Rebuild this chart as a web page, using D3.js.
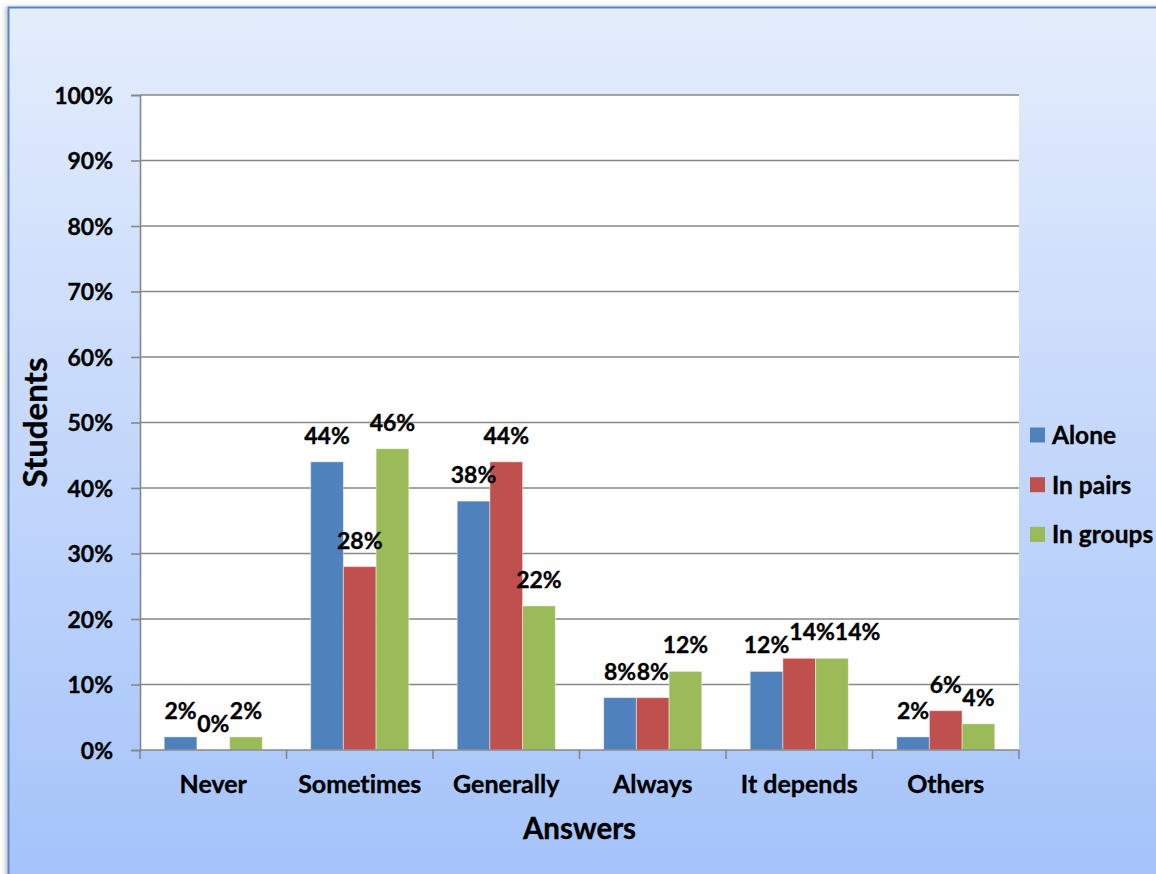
<!DOCTYPE html>
<html>
<head>
<meta charset="utf-8">
<script src="https://cdn.jsdelivr.net/npm/d3@7"></script>
<style>
  html, body { margin: 0; padding: 0; background: #ffffff; }
  svg { display: block; }
  text {
    font-family: Lato, "Open Sans", sans-serif; font-weight: bold; fill: #000;
    font-variant-ligatures: none; font-feature-settings: "liga" 0;
    stroke: #000; stroke-width: 0.35px;
  }
</style>
</head>
<body>
<svg id="chart" width="1156" height="874"></svg>
<script>
// Answers on the horizontal axis
const categories = ["Never", "Sometimes", "Generally", "Always", "It depends", "Others"];
// Series, in legend order
const seriesNames = ["Alone", "In pairs", "In groups"];
const alone   = [2, 44, 38, 8, 12, 2];
const inPairs = [0, 28, 44, 8, 14, 6];
const inGroups = [2, 46, 22, 12, 14, 4];
const seriesValues = [alone, inPairs, inGroups];
const seriesColors = ["#4f81bd", "#c0504d", "#9bbb59"];
// Percent ticks on the vertical axis
const yTicks = [0, 10, 20, 30, 40, 50, 60, 70, 80, 90, 100];

const svg = d3.select("#chart");
const W = 1156, H = 874;

// Chart area background
const defs = svg.append("defs");
const grad = defs.append("linearGradient")
  .attr("id", "bg").attr("x1", 0).attr("y1", 0).attr("x2", 0).attr("y2", 1);
grad.append("stop").attr("offset", "0%").attr("stop-color", "#e4edfc");
grad.append("stop").attr("offset", "100%").attr("stop-color", "#a3c2fa");

const shadow = defs.append("filter").attr("id", "shadow")
  .attr("x", "-5%").attr("y", "-5%").attr("width", "110%").attr("height", "110%");
shadow.append("feDropShadow").attr("dx", -2).attr("dy", 0).attr("stdDeviation", 2)
  .attr("flood-color", "#000").attr("flood-opacity", 0.25);

svg.append("rect")
  .attr("x", 8.5).attr("y", 7.5).attr("width", W + 20).attr("height", H + 20)
  .attr("fill", "url(#bg)")
  .attr("stroke", "#5a86c3").attr("stroke-width", 2)
  .attr("filter", "url(#shadow)");

// Plot area
const plot = { left: 140, right: 1019, top: 95, bottom: 750 };

const x = d3.scaleBand()
  .domain(categories)
  .range([plot.left, plot.right])
  .paddingInner(0).paddingOuter(0);

const xs = d3.scaleBand()
  .domain(seriesNames)
  .range([0, x.bandwidth()])
  .paddingInner(0).paddingOuter(0.74);

const y = d3.scaleLinear().domain([0, 100]).range([plot.bottom, plot.top]);

svg.append("rect")
  .attr("x", plot.left).attr("y", plot.top)
  .attr("width", plot.right - plot.left).attr("height", plot.bottom - plot.top)
  .attr("fill", "#ffffff");

// Horizontal gridlines
svg.append("g")
  .selectAll("line")
  .data(yTicks.filter(t => t > 0))
  .join("line")
  .attr("x1", plot.left).attr("x2", plot.right)
  .attr("y1", d => y(d)).attr("y2", d => y(d))
  .attr("stroke", "#878787").attr("stroke-width", 1.6);

// Y axis
const yAxis = svg.append("g")
  .attr("transform", `translate(${plot.left},0)`)
  .call(d3.axisLeft(y).tickValues(yTicks).tickFormat(d => d + "%").tickSize(9).tickPadding(18));
yAxis.select(".domain").attr("stroke", "#878787").attr("stroke-width", 1.6);
yAxis.selectAll(".tick line").attr("stroke", "#878787").attr("stroke-width", 1.6);
yAxis.selectAll(".tick text")
  .attr("font-family", "Lato, sans-serif").attr("font-weight", "bold")
  .attr("font-size", 23).attr("fill", "#000").attr("dy", "0.36em");

// Bars
const groups = svg.append("g").selectAll("g")
  .data(categories)
  .join("g")
  .attr("transform", d => `translate(${x(d)},0)`);

groups.selectAll("rect")
  .data((c, i) => seriesNames.map((s, k) => ({ s, k, v: seriesValues[k][i] })))
  .join("rect")
  .attr("x", d => xs(d.s))
  .attr("y", d => y(d.v))
  .attr("width", xs.bandwidth())
  .attr("height", d => y(0) - y(d.v))
  .attr("fill", d => seriesColors[d.k])
  .attr("stroke", "rgba(255,255,255,0.45)")
  .attr("stroke-width", 1);

// X axis line and category ticks
const xAxisG = svg.append("g");
xAxisG.append("line")
  .attr("x1", plot.left).attr("x2", plot.right)
  .attr("y1", plot.bottom).attr("y2", plot.bottom)
  .attr("stroke", "#878787").attr("stroke-width", 1.6);
const boundaries = categories.map(c => x(c)).concat([x(categories[categories.length - 1]) + x.bandwidth()]);
xAxisG.selectAll("line.tk")
  .data(boundaries)
  .join("line")
  .attr("class", "tk")
  .attr("x1", d => d).attr("x2", d => d)
  .attr("y1", plot.bottom).attr("y2", plot.bottom + 9)
  .attr("stroke", "#878787").attr("stroke-width", 1.6);

xAxisG.selectAll("text")
  .data(categories)
  .join("text")
  .attr("x", d => x(d) + x.bandwidth() / 2)
  .attr("y", plot.bottom + 43)
  .attr("text-anchor", "middle")
  .attr("font-size", 25)
  .text(d => d);

// Value labels above each bar; labels that collide inside a group are slid right
const labelSize = 23;
const labelLayer = svg.append("g");
categories.forEach((c, i) => {
  let prev = null;
  seriesNames.forEach((s, k) => {
    const v = seriesValues[k][i];
    const cx = x(c) + xs(s) + xs.bandwidth() / 2;
    const cy = y(v) - 18;
    const t = labelLayer.append("text")
      .attr("text-anchor", "middle")
      .attr("font-size", labelSize)
      .attr("x", cx).attr("y", cy)
      .text(v + "%");
    const w = t.node().getComputedTextLength();
    let left = cx - w / 2;
    if (prev && Math.abs(prev.y - cy) < labelSize * 0.85 && left < prev.right - 2) {
      left = prev.right;
      t.attr("x", left + w / 2);
    }
    prev = { right: left + w, y: cy };
  });
});

// Axis titles
svg.append("text")
  .attr("x", (plot.left + plot.right) / 2)
  .attr("y", 839)
  .attr("text-anchor", "middle")
  .attr("font-size", 29.5)
  .text("Answers");

svg.append("text")
  .attr("transform", `translate(47,${(plot.top + plot.bottom) / 2}) rotate(-90)`)
  .attr("text-anchor", "middle")
  .attr("font-size", 33)
  .text("Students");

// Legend
const legend = svg.append("g").selectAll("g")
  .data(seriesNames)
  .join("g")
  .attr("transform", (d, i) => `translate(1030,${435 + i * 49.7})`);
legend.append("rect")
  .attr("x", 0).attr("y", -7.5).attr("width", 15).attr("height", 15)
  .attr("fill", (d, i) => seriesColors[i]);
legend.append("text")
  .attr("x", 22).attr("y", 0).attr("dy", "0.36em")
  .attr("font-size", 24.5)
  .text(d => d);
</script>
</body>
</html>
